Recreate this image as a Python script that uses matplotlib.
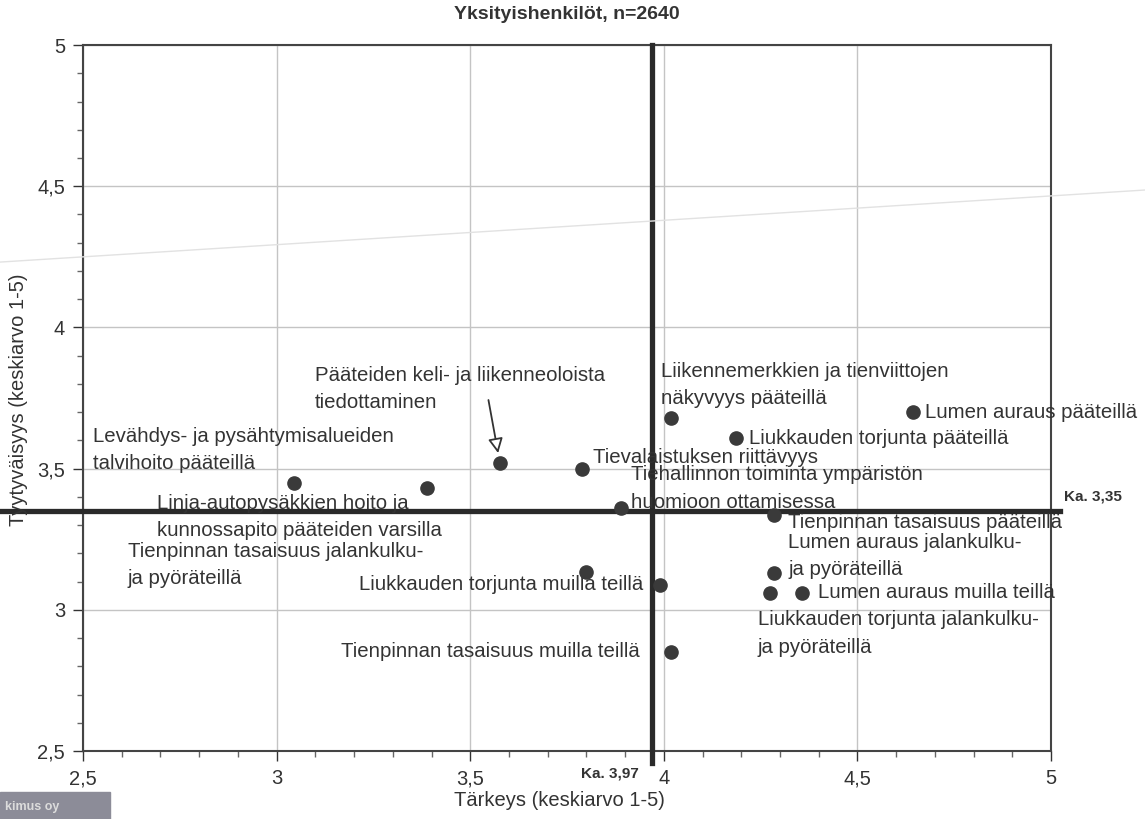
import matplotlib
matplotlib.use("Agg")
import matplotlib.pyplot as plt
from matplotlib.lines import Line2D
from matplotlib.patches import Rectangle

plt.rcParams['font.family'] = ['Liberation Sans', 'DejaVu Sans']

# data
items = [
    "Levähdys- ja pysähtymisalueiden\ntalvihoito pääteillä",
    "Linja-autopysäkkien hoito ja\nkunnossapito pääteiden varsilla",
    "Pääteiden keli- ja liikenneoloista\ntiedottaminen",
    "Tievalaistuksen riittävyys",
    "Tiehallinnon toiminta ympäristön\nhuomioon ottamisessa",
    "Tienpinnan tasaisuus jalankulku-\nja pyöräteillä",
    "Liukkauden torjunta muilla teillä",
    "Tienpinnan tasaisuus muilla teillä",
    "Liikennemerkkien ja tienviittojen\nnäkyvyys pääteillä",
    "Liukkauden torjunta pääteillä",
    "Lumen auraus pääteillä",
    "Tienpinnan tasaisuus pääteillä",
    "Lumen auraus jalankulku-\nja pyöräteillä",
    "Liukkauden torjunta jalankulku-\nja pyöräteillä",
    "Lumen auraus muilla teillä",
]
importance = [3.045, 3.388, 3.577, 3.789, 3.889, 3.799, 3.990, 4.019,
              4.019, 4.186, 4.644, 4.285, 4.285, 4.274, 4.357]
satisfaction = [3.45, 3.43, 3.52, 3.50, 3.36, 3.135, 3.088, 2.85,
                3.68, 3.61, 3.70, 3.335, 3.13, 3.06, 3.06]
mean_importance = 3.97
mean_satisfaction = 3.35
ticks = [2.5, 3, 3.5, 4, 4.5, 5]
tick_labels = ["2,5", "3", "3,5", "4", "4,5", "5"]

# label placement (data coords, anchor, horizontal alignment)
label_pos = [
    (2.526, 3.566, 'left'), (2.691, 3.330, 'left'), (3.099, 3.782, 'left'),
    (3.817, 3.541, 'left'), (3.915, 3.430, 'left'), (2.616, 3.159, 'left'),
    (3.946, 3.091, 'right'), (3.939, 2.851, 'right'), (3.993, 3.796, 'left'),
    (4.220, 3.608, 'left'), (4.675, 3.700, 'left'), (4.321, 3.311, 'left'),
    (4.321, 3.190, 'left'), (4.243, 2.916, 'left'), (4.398, 3.060, 'left'),
]

dark = '#333333'
fig = plt.figure(figsize=(11.45, 8.19), dpi=100)
ax = fig.add_axes([0.0725, 0.083, 0.8455, 0.862])
ax.set_xlim(2.5, 5)
ax.set_ylim(2.5, 5)

ax.set_xticks(ticks)
ax.set_xticklabels(tick_labels)
ax.set_yticks(ticks)
ax.set_yticklabels(tick_labels)
ax.set_xticks([2.5 + 0.1 * i for i in range(26)], minor=True)
ax.set_yticks([2.5 + 0.1 * i for i in range(26)], minor=True)
ax.tick_params(which='major', length=7, width=1, color=dark, labelsize=14.5,
               labelcolor=dark, pad=6)
ax.tick_params(which='minor', length=4, width=1, color='#666666')
ax.grid(True, which='major', color='#c4c4c4', linewidth=1)
ax.set_axisbelow(True)
for s in ax.spines.values():
    s.set_color('#444444')
    s.set_linewidth(1.5)

ax.plot(importance, satisfaction, 'o', color='#3a3a3a', markersize=9.5,
        zorder=5)

for name, (tx, ty, ha) in zip(items, label_pos):
    ax.text(tx, ty, name, ha=ha, va='center', fontsize=14.7, color=dark,
            linespacing=1.55, zorder=4, clip_on=False)

# arrow for the "Pääteiden keli" label
ax.annotate('', xy=(3.572, 3.555), xytext=(3.547, 3.743),
            arrowprops=dict(arrowstyle='-|>', fc='white', ec='#333333',
                            lw=1.3, mutation_scale=22, shrinkA=0, shrinkB=0))

# mean lines
ax.plot([mean_importance, mean_importance], [5, 2.457], color='#2a2a2a',
        linewidth=3.8, clip_on=False, zorder=3)
ax.plot([2.285, 5.023], [mean_satisfaction, mean_satisfaction],
        color='#2a2a2a', linewidth=3.8, clip_on=False, zorder=3)
ax.text(5.033, 3.403, "Ka. 3,35", fontsize=11, fontweight='bold', color=dark,
        ha='left', va='center', clip_on=False)
ax.text(3.936, 2.422, "Ka. 3,97", fontsize=11, fontweight='bold', color=dark,
        ha='right', va='center', clip_on=False)

fig.text(0.495, 0.982, "Yksityishenkilöt, n=2640", ha='center', va='center',
         fontsize=14, fontweight='bold', color=dark)
fig.text(0.489, 0.022, "Tärkeys (keskiarvo 1-5)", ha='center', va='center',
         fontsize=14.5, color=dark)
fig.text(0.016, 0.512, "Tyytyväisyys (keskiarvo 1-5)", ha='center',
         va='center', rotation=90, fontsize=14.5, color=dark)

# faint scan line and logo strip
fig.add_artist(Line2D([0, 1], [0.68, 0.768], color='#e2e2e2', linewidth=1,
                      transform=fig.transFigure))
fig.add_artist(Rectangle((0, 0), 0.096, 0.033, color='#8c8c98',
                         transform=fig.transFigure))
fig.text(0.004, 0.015, "kimus oy", fontsize=9, color='#dcdcdc',
         fontweight='bold', va='center')

fig.savefig('out.png', dpi=100)
